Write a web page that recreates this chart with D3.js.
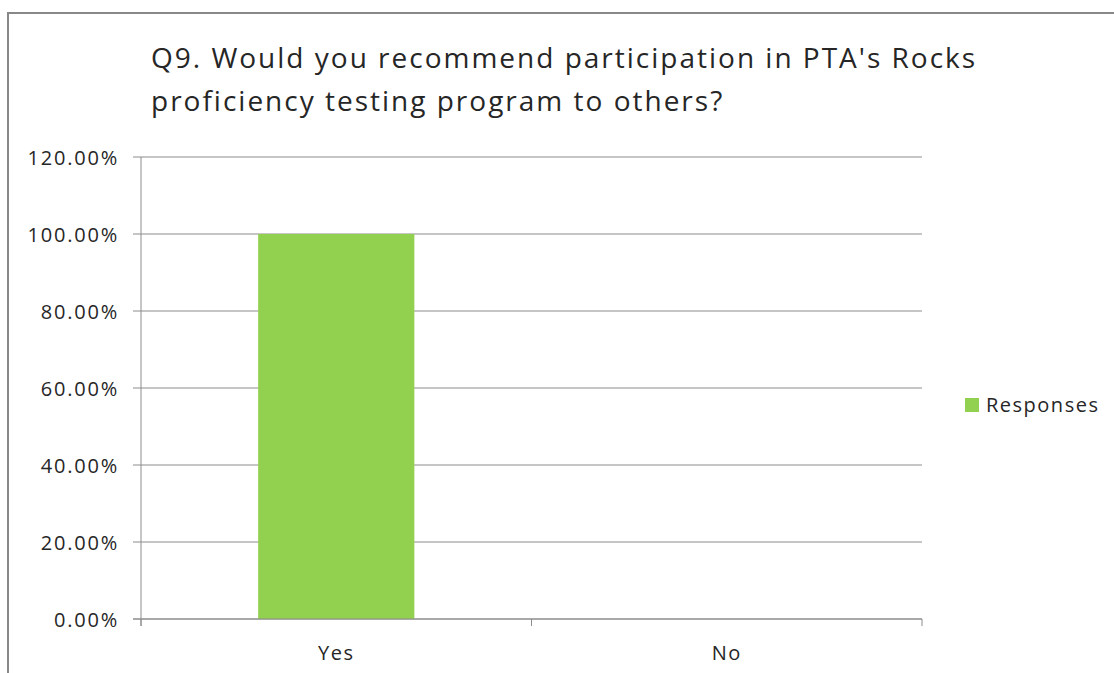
<!DOCTYPE html>
<html>
<head>
<meta charset="utf-8">
<script src="https://cdn.jsdelivr.net/npm/d3@7"></script>
<style>
  body { margin: 0; background: #fff; }
  text { font-family: "Open Sans", Lato, sans-serif; fill: #262626; }
</style>
</head>
<body>
<svg id="chart" width="1114" height="673"></svg>
<script>
// data
const categories = ["Yes", "No"];
const responses = [1.0, 0.0];
const yTicks = [0, 0.2, 0.4, 0.6, 0.8, 1.0, 1.2];
const titleLines = [
  "Q9. Would you recommend participation in PTA's Rocks",
  "proficiency testing program to others?"
];
const seriesName = "Responses";

const svg = d3.select("#chart");
const plotLeft = 141, plotRight = 922, plotTop = 157, plotBottom = 619;

// outer chart frame (right and bottom edges fall outside the window)
svg.append("rect")
  .attr("x", 8).attr("y", 13)
  .attr("width", 1130).attr("height", 700)
  .attr("fill", "none")
  .attr("stroke", "#888")
  .attr("stroke-width", 2);

// title
titleLines.forEach((t, i) => {
  svg.append("text")
    .attr("x", 151)
    .attr("y", 68 + i * 43)
    .style("font-size", "28px")
    .style("letter-spacing", "2px")
    .text(t);
});

const x = d3.scaleBand()
  .domain(categories)
  .range([plotLeft, plotRight])
  .paddingInner(0.6)
  .paddingOuter(0.3);

const y = d3.scaleLinear()
  .domain([0, 1.2])
  .range([plotBottom, plotTop]);

// gridlines
svg.append("g")
  .selectAll("line")
  .data(yTicks)
  .join("line")
  .attr("x1", plotLeft - 8)
  .attr("x2", plotRight)
  .attr("y1", d => y(d))
  .attr("y2", d => y(d))
  .attr("stroke", "#8c8c8c")
  .attr("stroke-width", 1);

// y axis line
svg.append("line")
  .attr("x1", plotLeft).attr("x2", plotLeft)
  .attr("y1", plotTop).attr("y2", plotBottom + 7)
  .attr("stroke", "#8c8c8c");

// y tick labels
svg.append("g")
  .selectAll("text")
  .data(yTicks)
  .join("text")
  .attr("x", 119)
  .attr("y", d => y(d))
  .attr("text-anchor", "end")
  .attr("dominant-baseline", "central")
  .style("font-size", "20px")
  .style("letter-spacing", "1.8px")
  .text(d => d3.format(".2%")(d));

// x axis ticks at category boundaries
const step = x.step();
const bounds = d3.range(categories.length + 1).map(i => plotLeft + i * step);
svg.append("g")
  .selectAll("line")
  .data(bounds)
  .join("line")
  .attr("x1", d => d).attr("x2", d => d)
  .attr("y1", plotBottom).attr("y2", plotBottom + 7)
  .attr("stroke", "#8c8c8c");

// bars
svg.append("g")
  .selectAll("rect")
  .data(categories)
  .join("rect")
  .attr("x", d => x(d))
  .attr("y", (d, i) => y(responses[i]))
  .attr("width", x.bandwidth())
  .attr("height", (d, i) => plotBottom - y(responses[i]))
  .attr("fill", "#92d050");

// redraw baseline over bars
svg.append("line")
  .attr("x1", plotLeft - 8).attr("x2", plotRight)
  .attr("y1", plotBottom).attr("y2", plotBottom)
  .attr("stroke", "#8c8c8c");

// x labels
svg.append("g")
  .selectAll("text")
  .data(categories)
  .join("text")
  .attr("x", d => x(d) + x.bandwidth() / 2)
  .attr("y", 660)
  .attr("text-anchor", "middle")
  .style("font-size", "20px")
  .style("letter-spacing", "1.5px")
  .text(d => d);

// legend
svg.append("rect")
  .attr("x", 965).attr("y", 398)
  .attr("width", 14).attr("height", 14)
  .attr("fill", "#92d050");
svg.append("text")
  .attr("x", 986).attr("y", 412)
  .style("font-size", "20px")
  .style("letter-spacing", "1.5px")
  .text(seriesName);
</script>
</body>
</html>
